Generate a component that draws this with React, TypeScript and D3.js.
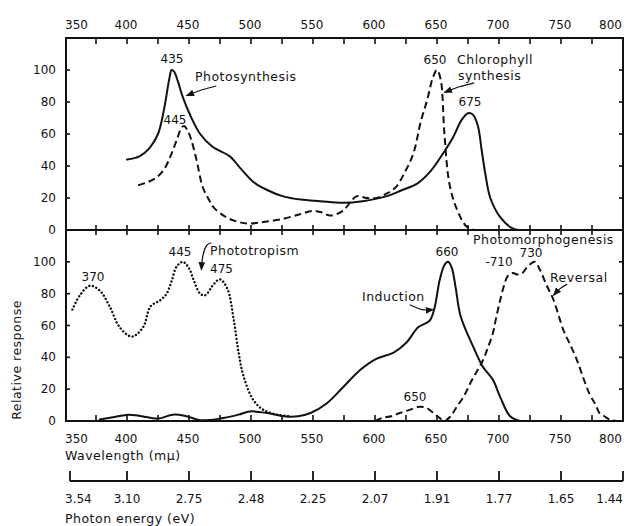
import * as d3 from 'd3';
import React from 'react';

// wavelength axis (nm / mμ)
const wlTicks = [350, 400, 450, 500, 550, 600, 650, 700, 750, 800];
const wlMinor = d3.range(350, 801, 25);
const energyLabels = ['3.54', '3.10', '2.75', '2.48', '2.25', '2.07', '1.91', '1.77', '1.65', '1.44'];
const yTicks = [0, 20, 40, 60, 80, 100];

// top panel
const photosynWl = [400, 410, 418, 425, 430, 434, 436, 438, 441, 445, 452, 459, 469, 483, 491, 502, 513, 526, 540, 556, 574, 590, 609, 622, 634, 645, 655, 663, 670, 675, 679, 683, 686, 689, 693, 701, 711, 720];
const photosynVal = [44, 46, 51, 60, 76, 94, 100, 99, 93, 83, 70, 60, 52, 46, 39, 30, 25, 21, 19, 18, 17, 18, 21, 25, 29, 37, 48, 58, 69, 73, 72, 65, 50, 35, 20, 8, 1, 0];

const chloroWl = [409, 417, 424, 430, 435, 440, 444, 446, 449, 452, 456, 461, 466, 470, 480, 490, 499, 510, 526, 540, 550, 557, 564, 574, 585, 593, 601, 610, 617, 624, 631, 637, 642, 647, 650, 653, 656, 660, 666, 674, 680];
const chloroVal = [28, 30, 33, 38, 46, 56, 64, 65, 62, 56, 44, 27, 19, 14, 8, 5, 4, 5, 7, 10, 12, 11, 9, 12, 21, 20, 20, 23, 27, 36, 48, 68, 81, 96, 100, 94, 60, 29, 13, 2, 0];

// bottom panel
const phototropWl = [356, 362, 370, 378, 386, 394, 404, 413, 419, 427, 432, 436, 440, 445, 450, 454, 459, 463, 470, 475, 481, 486, 490, 494, 502, 510, 521, 530];
const phototropVal = [70, 79, 85, 82, 72, 59, 53, 59, 72, 76, 80, 88, 97, 100, 96, 88, 80, 79, 86, 89, 83, 64, 43, 28, 13, 7, 4, 3];

const inductionWl = [378, 390, 401, 412, 425, 437, 448, 459, 475, 490, 499, 513, 526, 538, 548, 561, 574, 588, 601, 615, 625, 635, 644, 648, 652, 656, 659, 662, 665, 669, 679, 687, 695, 701, 709, 717];
const inductionVal = [1, 2.5, 4, 3, 1.5, 4, 3, 0.5, 1.5, 4, 6, 5, 3, 3, 5, 11, 21, 32, 39, 43, 49, 59, 63, 71, 88, 98, 100, 96, 84, 66, 47, 34, 26, 15, 3, 0];

const reversalWl = [600, 606, 613, 620, 628, 636, 642, 647, 652, 656, 661, 666, 672, 677, 682, 687, 691, 695, 698, 701, 704, 707, 711, 715, 719, 722, 726, 729, 733, 738, 744, 752, 758, 763, 768, 773, 778, 781, 785, 789, 795];
const reversalVal = [0, 2, 3, 5, 7, 9, 8, 5, 2, 0, 3, 9, 16, 24, 31, 38, 46, 55, 66, 76, 85, 91, 93, 92, 93, 96, 99, 100, 95, 86, 76, 57, 47, 38, 27, 17, 10, 5, 3, 1, 0];

const FONT = 'DejaVu Sans, sans-serif';
const INK = '#111';

function App() {
  const x = d3.scaleLinear([350, 800], [65, 623]);
  const yTop = d3.scaleLinear([0, 120], [230, 38]);
  const yBot = d3.scaleLinear([0, 120], [421, 230]);

  const path = (wl: number[], val: number[], y: d3.ScaleLinear<number, number>) =>
    d3.line<number>().x(i => x(wl[i])).y(i => y(val[i])).curve(d3.curveCatmullRom.alpha(0.5))(d3.range(wl.length)) || '';

  const arrow = (pts: [number, number][], y: d3.ScaleLinear<number, number>) =>
    d3.line<[number, number]>().x(d => x(d[0])).y(d => y(d[1])).curve(d3.curveNatural)(pts) || '';

  const label = (t: string, px: number, py: number, anchor = 'middle') => (
    <text x={px} y={py} textAnchor={anchor}>{t}</text>
  );
  const word = (t: string, px: number, py: number) => (
    <text x={px} y={py} fontSize={12.5} letterSpacing={0.5}>{t}</text>
  );

  return (
    <svg width={628} height={526} style={{ position: 'absolute', left: 0, top: 0, background: '#fff' }}
      fontFamily={FONT} fontSize={12} fill={INK}>
      <defs>
        <marker id="head" viewBox="0 0 10 10" refX="9" refY="5" markerWidth="7" markerHeight="7" orient="auto">
          <path d="M0,1 L10,5 L0,9 Z" fill={INK} />
        </marker>
      </defs>

      {/* frame */}
      <g stroke={INK} strokeWidth={2} fill="none">
        <line x1={65} x2={623} y1={38} y2={38} />
        <line x1={65} x2={623} y1={230} y2={230} />
        <line x1={65} x2={623} y1={421} y2={421} />
        <line x1={66} x2={66} y1={37} y2={422} />
        <line x1={623} x2={623} y1={37} y2={422} />
      </g>

      {/* ticks on the frame */}
      <g stroke={INK} strokeWidth={1.6}>
        {wlMinor.slice(1, -1).map(w => (
          <g key={w}>
            <line x1={x(w)} x2={x(w)} y1={38} y2={44} />
            <line x1={x(w)} x2={x(w)} y1={225} y2={235} />
            <line x1={x(w)} x2={x(w)} y1={415} y2={421} />
          </g>
        ))}
        {yTicks.slice(1).map(v => (
          <g key={v}>
            <line x1={66} x2={70} y1={yTop(v)} y2={yTop(v)} />
            <line x1={619} x2={623} y1={yTop(v)} y2={yTop(v)} />
            <line x1={66} x2={70} y1={yBot(v)} y2={yBot(v)} />
            <line x1={619} x2={623} y1={yBot(v)} y2={yBot(v)} />
          </g>
        ))}
      </g>

      {/* top wavelength labels */}
      <g>
        {wlTicks.map((w, i) => label(String(w), i === 0 ? 65 : i === wlTicks.length - 1 ? 622 : x(w) - 1, 29,
          i === 0 ? 'start' : i === wlTicks.length - 1 ? 'end' : 'middle'))}
      </g>

      {/* y tick labels */}
      <g textAnchor="end">
        {yTicks.map(v => <text key={'t' + v} x={56} y={yTop(v) + 4}>{v}</text>)}
        {yTicks.map(v => <text key={'b' + v} x={56} y={yBot(v) + 4}>{v}</text>)}
      </g>
      <text transform="translate(21,360) rotate(-90)" textAnchor="middle" fontSize={12.5} letterSpacing={0.5}>Relative response</text>

      {/* bottom wavelength axis labels */}
      <g>
        {wlTicks.map((w, i) => label(String(w), i === 0 ? 65 : i === wlTicks.length - 1 ? 622 : x(w) - 1, 443,
          i === 0 ? 'start' : i === wlTicks.length - 1 ? 'end' : 'middle'))}
      </g>
      {word('Wavelength (mμ)', 65, 460)}

      {/* photon energy axis */}
      <g stroke={INK} strokeWidth={1.8}>
        <line x1={x(350) + 5} x2={x(800)} y1={481} y2={481} />
        {wlTicks.map((w, i) => {
          const px = i === 0 ? x(w) + 5 : x(w);
          return <line key={w} x1={px} x2={px} y1={471} y2={481} />;
        })}
      </g>
      <g>
        {energyLabels.map((e, i) => label(e, i === 0 ? 65 : i === energyLabels.length - 1 ? 623 : x(wlTicks[i]),
          503, i === 0 ? 'start' : i === energyLabels.length - 1 ? 'end' : 'middle'))}
      </g>
      {word('Photon energy (eV)', 65, 523)}

      {/* curves */}
      <g fill="none" stroke={INK} strokeLinecap="round" strokeLinejoin="round">
        <path d={path(photosynWl, photosynVal, yTop)} strokeWidth={2} />
        <path d={path(chloroWl, chloroVal, yTop)} strokeWidth={2} strokeDasharray="7 4" strokeLinecap="butt" />
        <path d={path(inductionWl, inductionVal, yBot)} strokeWidth={2} />
        <path d={path(phototropWl, phototropVal, yBot)} strokeWidth={2.4} strokeDasharray="0.1 3.6" />
        <path d={path(reversalWl, reversalVal, yBot)} strokeWidth={2} strokeDasharray="7 4" strokeLinecap="butt" />
      </g>

      {/* pointer arrows */}
      <g fill="none" stroke={INK} strokeWidth={1.2}>
        <path d={arrow([[472, 90], [460, 87.5], [448, 84]], yTop)} markerEnd="url(#head)" />
        <path d={arrow([[680, 92], [668, 89.5], [656, 86]], yTop)} markerEnd="url(#head)" />
        <path d={arrow([[468, 112], [464, 110], [461, 103], [460, 95]], yBot)} markerEnd="url(#head)" />
        <path d={arrow([[628, 73], [638, 70], [647, 70]], yBot)} markerEnd="url(#head)" />
        <path d={arrow([[755, 86], [749, 83], [744, 79]], yBot)} markerEnd="url(#head)" />
      </g>

      {/* annotations */}
      <g>
        {label('435', 172, 63)}
        {label('445', 175, 124)}
        {word('Photosynthesis', 195, 81)}
        {label('650', 435, 64)}
        {word('Chlorophyll', 457, 64)}
        {word('synthesis', 458, 80)}
        {label('675', 470, 106)}
        {label('370', 93, 281)}
        {label('445', 180, 256)}
        {word('Phototropism', 210, 255)}
        {label('475', 210, 273, 'start')}
        {label('660', 447, 256)}
        {word('Photomorphogenesis', 473, 244)}
        {label('-710', 499, 266)}
        {label('730', 531, 257)}
        {word('Reversal', 550, 282)}
        {word('Induction', 362, 301)}
        {label('650', 415, 401)}
      </g>
    </svg>
  );
}

export default App;
